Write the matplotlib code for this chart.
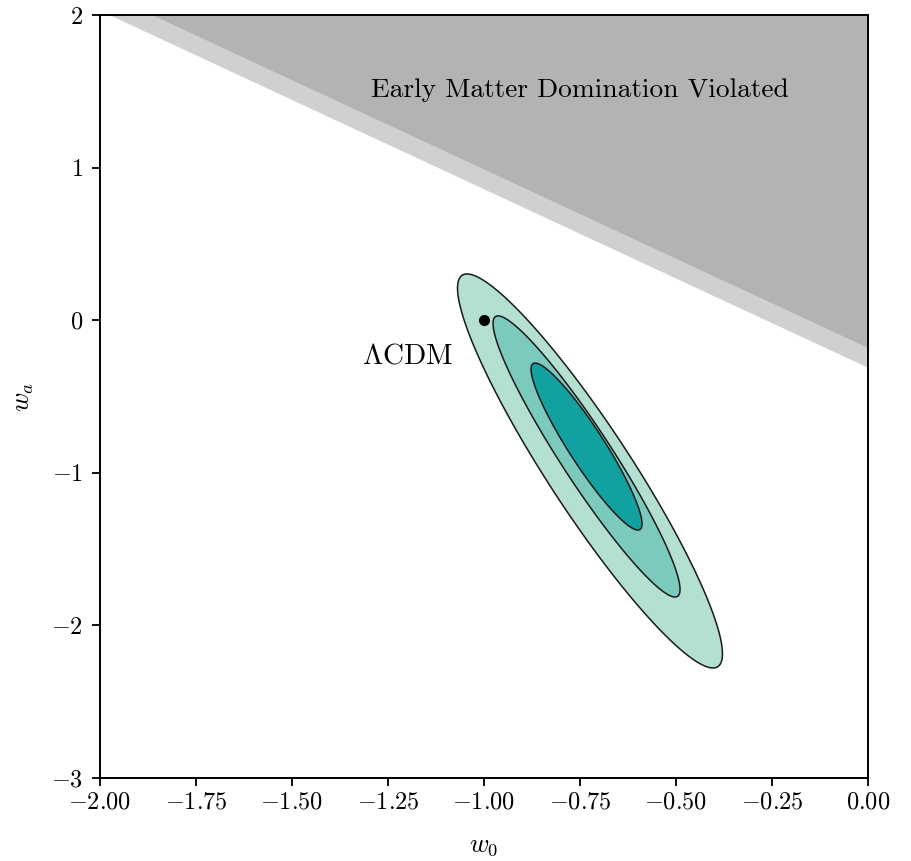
import numpy as np
import matplotlib
matplotlib.use("Agg")
from matplotlib import pyplot as plt

plt.rcParams['font.family'] = 'serif'
plt.rcParams['font.serif'] = ['cmr10', 'DejaVu Serif']
plt.rcParams['mathtext.fontset'] = 'cm'
plt.rcParams['axes.formatter.use_mathtext'] = True

# excluded region (w_a boundary lines at w0 = -2 and w0 = 0)
bound_w0 = [-2.0, 0.0]
bound_dark_wa = [2.16, -0.18]
bound_light_wa = [2.03, -0.31]

# confidence contours, outer -> inner
contour_w0 = [-0.724, -0.733, -0.733]
contour_wa = [-0.988, -0.893, -0.828]
contour_sig_w0 = [0.345, 0.2435, 0.1445]
contour_sig_wa = [1.291, 0.921, 0.547]
contour_rho = [-0.928, -0.946, -0.925]
contour_colors = ['#b4e0d1', '#7ccabd', '#12a1a1']

lcdm_w0 = -1.0
lcdm_wa = 0.0

fig = plt.figure(figsize=(9.11, 8.61), dpi=100)
ax = fig.add_axes([0.1098, 0.0964, 0.8430, 0.8862])

xb = np.array(bound_w0)
ax.fill_between(xb, bound_light_wa, 2.5, color='#d0d0d0', lw=0, zorder=1)
ax.fill_between(xb, bound_dark_wa, 2.5, color='#b3b3b3', lw=0, zorder=1)

t = np.linspace(0, 2 * np.pi, 400)
for i in range(len(contour_w0)):
    sx, sy, r = contour_sig_w0[i], contour_sig_wa[i], contour_rho[i]
    x = contour_w0[i] + sx * np.cos(t)
    y = contour_wa[i] + sy * (r * np.cos(t) + np.sqrt(1 - r ** 2) * np.sin(t))
    ax.fill(x, y, facecolor=contour_colors[i], edgecolor='#1a1a1a', lw=1.1, zorder=2 + i)

ax.plot(lcdm_w0, lcdm_wa, 'o', color='k', ms=7, zorder=10)
ax.text(-1.2, -0.235, r'$\Lambda$CDM', fontsize=21, ha='center', va='center')
ax.text(-0.75, 1.51, 'Early Matter Domination Violated', fontsize=19.8, ha='center', va='center', zorder=5)

ax.set_xlim(-2, 0)
ax.set_ylim(-3, 2)
ax.set_xticks([-2.0, -1.75, -1.5, -1.25, -1.0, -0.75, -0.5, -0.25, 0.0])
ax.set_xticklabels(['$-2.00$', '$-1.75$', '$-1.50$', '$-1.25$', '$-1.00$', '$-0.75$', '$-0.50$', '$-0.25$', '$0.00$'])
ax.set_yticks([-3, -2, -1, 0, 1, 2])
ax.set_yticklabels(['$-3$', '$-2$', '$-1$', '$0$', '$1$', '$2$'])
ax.tick_params(labelsize=17.5, width=1.3, length=6, direction='out')
ax.tick_params(axis='y', pad=6)
for s in ax.spines.values():
    s.set_linewidth(1.4)
    s.set_zorder(12)
ax.set_xlabel(r'$w_0$', fontsize=19, labelpad=15)
ax.set_ylabel(r'$w_a$', fontsize=19, labelpad=11)

plt.savefig('out.png', dpi=100)
